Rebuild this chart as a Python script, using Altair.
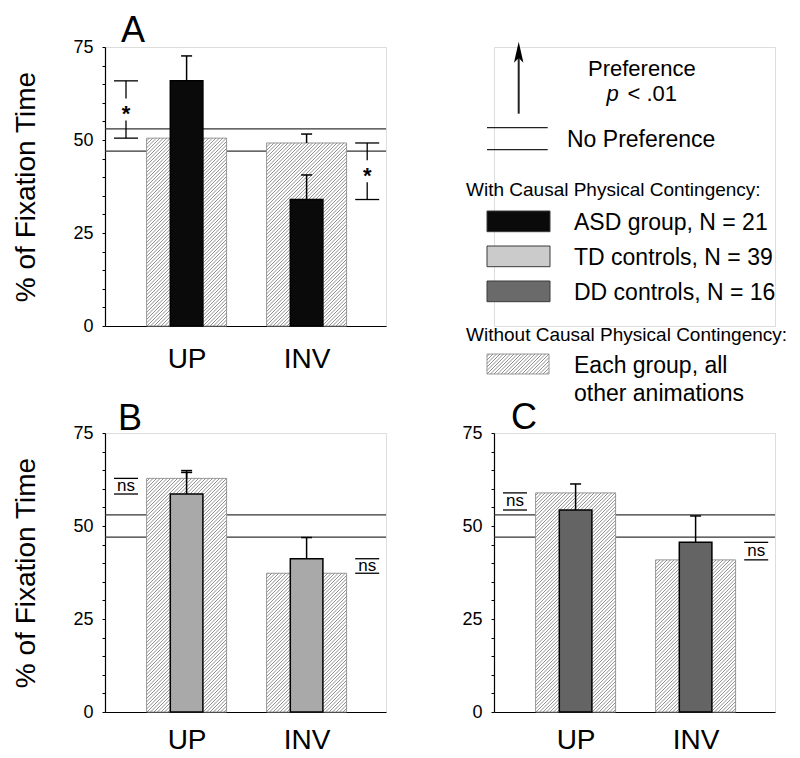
import json
import numpy as np
import pandas as pd
import altair as alt

FONT = "Liberation Sans"

# ---------------- data ----------------
conditions = ["UP", "INV"]
no_pref_band = [47, 53]

asd_mean = [65.9, 34.0]
asd_err = [72.6, 40.6]
asd_other_mean = [50.5, 49.2]
asd_other_err = [None, 51.6]
asd_sig = ["*", "*"]

td_mean = [58.6, 41.2]
td_err = [64.9, 46.9]
td_other_mean = [62.8, 37.3]
td_other_err = [64.4, None]
td_sig = ["ns", "ns"]

dd_mean = [54.3, 45.6]
dd_err = [61.3, 52.7]
dd_other_mean = [58.9, 40.9]
dd_other_err = [None, None]
dd_sig = ["ns", "ns"]

y_ticks = list(range(0, 76, 5))
y_labels_every = 25

legend_groups = ["ASD group, N = 21", "TD controls, N = 39", "DD controls, N = 16"]
legend_colors = ["#0a0a0a", "#cbcbcb", "#6a6a6a"]

# ---------------- geometry (layout only) ----------------
W, H = 281, 279
PXU = 120.0
XMAX = W / PXU
YMAX = 75
PX_Y = H / YMAX
OFFSET = 0.68
HALF_OTHER = 40 / PXU
HALF_GROUP = 16.3 / PXU
CAP = 5.5 / PXU
MARK_HALF = 12 / PXU
MARK_SHIFT = 0.505
HATCH_STEP = 3.5
HATCH_COLOR = "#7c7c7c"
HATCH_W = 0.85

xscale = alt.Scale(domain=[0, XMAX], nice=False, zero=False)
yscale = alt.Scale(domain=[0, YMAX], nice=False, zero=True)


def hatch_segments(x0, x1, y0, y1, step=HATCH_STEP):
    """Diagonal '/' segments clipped to a rectangle, pixel coords with y up."""
    segs = []
    tmin, tmax = x0 - y1, x1 - y0
    t = np.ceil(tmin / step) * step
    while t < tmax:
        xa = max(x0, y0 + t)
        xb = min(x1, y1 + t)
        if xb - xa > 0.2:
            segs.append((xa, xa - t, xb, xb - t))
        t += step
    return segs


def panel(letter, mean, err, other_mean, other_err, sig, color, y_title,
          label_pad, letter_x, letter_y):
    pos = [i + OFFSET for i in range(len(conditions))]
    xaxis = alt.Axis(
        values=pos,
        labelExpr=f"{json.dumps(conditions)}[round(datum.value - {OFFSET})]",
        ticks=False, tickSize=0, grid=False, domainColor="black", domainWidth=1.2,
        labelFontSize=28, labelColor="black", labelPadding=label_pad,
        labelFlush=False, labelOverlap=False, title=None, labelFont=FONT,
    )
    yaxis = alt.Axis(
        values=y_ticks,
        labelExpr=f"datum.value % {y_labels_every} == 0 ? datum.label : ''",
        tickSize=3,
        tickColor="black", domainColor="black", domainWidth=1.2, grid=False,
        labelFontSize=18, labelColor="black", labelPadding=9, labelFont=FONT,
        labelOverlap=False, labelFlush=False,
        title=y_title, titleFontSize=28, titleFontWeight="normal", titleColor="black",
        titlePadding=32, titleFont=FONT,
    )

    def X(f):
        return alt.X(f"{f}:Q", scale=xscale, axis=xaxis)

    def Y(f):
        return alt.Y(f"{f}:Q", scale=yscale, axis=yaxis)

    bars = pd.DataFrame({
        "cond": conditions, "pos": pos, "mean": mean, "err": err,
        "other": other_mean,
    })
    bars["zero"] = 0.0
    bars["ox0"] = bars["pos"] - HALF_OTHER
    bars["ox1"] = bars["pos"] + HALF_OTHER
    bars["gx0"] = bars["pos"] - HALF_GROUP
    bars["gx1"] = bars["pos"] + HALF_GROUP

    # preference band lines
    pref_df = pd.DataFrame({"y": no_pref_band, "x0": 0.0, "x1": XMAX})
    pref = alt.Chart(pref_df).mark_rule(color="#333333", strokeWidth=1.2).encode(
        x=X("x0"), x2="x1", y=Y("y"))

    other_bars = alt.Chart(bars).mark_rect(fill="white", stroke="#9a9a9a", strokeWidth=1).encode(
        x=X("ox0"), x2="ox1", y=Y("zero"), y2="other")

    hrows = []
    for p, v in zip(pos, other_mean):
        for (xa, ya, xb, yb) in hatch_segments((p - HALF_OTHER) * PXU, (p + HALF_OTHER) * PXU, 0, v * PX_Y):
            hrows.append({"hx": xa / PXU, "hy": ya / PX_Y, "hx2": xb / PXU, "hy2": yb / PX_Y})
    hatch = alt.Chart(pd.DataFrame(hrows)).mark_rule(color=HATCH_COLOR, strokeWidth=HATCH_W).encode(
        x=X("hx"), x2="hx2", y=Y("hy"), y2="hy2")

    group_bars = alt.Chart(bars).mark_rect(fill=color, stroke="black", strokeWidth=1.5).encode(
        x=X("gx0"), x2="gx1", y=Y("zero"), y2="mean")

    erows = []
    for p, m, e, om, oe in zip(pos, mean, err, other_mean, other_err):
        erows.append({"ep": p, "base": m, "top": e, "c0": p - CAP, "c1": p + CAP})
        if oe is not None:
            erows.append({"ep": p, "base": om, "top": oe, "c0": p - CAP, "c1": p + CAP})
    edf = pd.DataFrame(erows)
    err_line = alt.Chart(edf).mark_rule(color="black", strokeWidth=1.5).encode(
        x=X("ep"), y=Y("base"), y2="top")
    err_cap = alt.Chart(edf).mark_rule(color="black", strokeWidth=1.5).encode(
        x=X("c0"), x2="c1", y=Y("top"))

    # significance markers
    lrows, trows = [], []
    for i, (p, m, om, s) in enumerate(zip(pos, mean, other_mean, sig)):
        side = -1 if i == 0 else 1
        mx = p + side * MARK_SHIFT
        hi, lo = max(m, om), min(m, om)
        mid = (hi + lo) / 2
        for v in (hi, lo):
            lrows.append({"sx": mx - MARK_HALF, "sx2": mx + MARK_HALF, "sy": v, "sy2": v})
        if s == "*":
            gap = 11 / PX_Y
            lrows.append({"sx": mx, "sx2": mx, "sy": hi, "sy2": mid + gap})
            lrows.append({"sx": mx, "sx2": mx, "sy": mid - gap, "sy2": lo})
        trows.append({"tx": mx, "ty": mid, "txt": s})
    sig_lines = alt.Chart(pd.DataFrame(lrows)).mark_rule(color="black", strokeWidth=1.3).encode(
        x=X("sx"), x2="sx2", y=Y("sy"), y2="sy2")
    tdf = pd.DataFrame(trows)
    if sig[0] == "*":
        sig_text = alt.Chart(tdf).mark_text(fontSize=22, fontWeight="bold", baseline="alphabetic",
                                            dy=12, font=FONT, color="black").encode(
            x=X("tx"), y=Y("ty"), text="txt:N")
    else:
        sig_text = alt.Chart(tdf).mark_text(fontSize=17, baseline="alphabetic", dy=5,
                                            font=FONT, color="black").encode(
            x=X("tx"), y=Y("ty"), text="txt:N")

    letter_layer = alt.Chart(pd.DataFrame({"t": [letter]})).mark_text(
        align="left", baseline="alphabetic", fontSize=36, font=FONT, color="black").encode(
        text="t:N", x=alt.value(letter_x), y=alt.value(letter_y))

    return alt.layer(pref, other_bars, hatch, group_bars, err_line, err_cap,
                     sig_lines, sig_text, letter_layer).properties(width=W, height=H)


panel_a = panel("A", asd_mean, asd_err, asd_other_mean, asd_other_err, asd_sig,
                "#0a0a0a", "% of Fixation Time", 19, 16, -5.5)
panel_b = panel("B", td_mean, td_err, td_other_mean, td_other_err, td_sig,
                "#a9a9a9", "% of Fixation Time", 14, 13, -3.4)
panel_c = panel("C", dd_mean, dd_err, dd_other_mean, dd_other_err, dd_sig,
                "#646464", None, 14, 17, -4.2)

# ---------------- legend panel (pixel coordinates via identity scales) ----------------
LXS = alt.Scale(domain=[0, W], range=[0, W], nice=False, zero=False)
LYS = alt.Scale(domain=[0, H], range=[0, H], nice=False, zero=False)


def LX(f):
    return alt.X(f"{f}:Q", scale=LXS, axis=None)


def LY(f):
    return alt.Y(f"{f}:Q", scale=LYS, axis=None)


text_rows = [
    {"lx": 94, "ly": 28.5, "txt": "Preference", "fs": 22},
    {"lx": 133.5, "ly": 53.5, "txt": "< .01", "fs": 22},
    {"lx": 73, "ly": 99.7, "txt": "No Preference", "fs": 23},
    {"lx": -28, "ly": 149, "txt": "With Causal Physical Contingency:", "fs": 19},
    {"lx": -28, "ly": 294, "txt": "Without Causal Physical Contingency:", "fs": 19},
    {"lx": 80, "ly": 326.3, "txt": "Each group, all", "fs": 23},
    {"lx": 80, "ly": 354, "txt": "other animations", "fs": 23},
]
for i, g in enumerate(legend_groups):
    text_rows.append({"lx": 80, "ly": 183.3 + 35 * i, "txt": g, "fs": 23})
leg_text = alt.Chart(pd.DataFrame(text_rows)).mark_text(
    align="left", baseline="alphabetic", font=FONT, color="black").encode(
    x=LX("lx"), y=LY("ly"), text="txt:N", size=alt.Size("fs:Q", scale=None, legend=None))

leg_p = alt.Chart(pd.DataFrame({"lx": [112.5], "ly": [53.5], "txt": ["p"]})).mark_text(
    align="left", baseline="alphabetic", font=FONT, fontSize=22, fontStyle="italic",
    color="black").encode(x=LX("lx"), y=LY("ly"), text="txt:N")

rule_rows = [
    {"rx": -7, "rx2": 53.7, "ry": 80.7, "ry2": 80.7, "w": 1.2},
    {"rx": -7, "rx2": 53.7, "ry": 102.7, "ry2": 102.7, "w": 1.2},
    {"rx": 24.7, "rx2": 24.7, "ry": 6, "ry2": 66.7, "w": 2},
]
leg_rules = alt.Chart(pd.DataFrame(rule_rows)).mark_rule(color="#222222").encode(
    x=LX("rx"), x2="rx2", y=LY("ry"), y2="ry2",
    strokeWidth=alt.StrokeWidth("w:Q", scale=None, legend=None))

arrow_head = alt.Chart(pd.DataFrame({"ax": [24.7], "ay": [5.2]})).mark_point(
    shape="M0,-1L-0.45,1L0,0.55L0.45,1Z", filled=True, size=441, color="black", opacity=1).encode(
    x=LX("ax"), y=LY("ay"))

sw_rows = []
for i, c in enumerate(legend_colors):
    sw_rows.append({"sx": -7, "sx2": 56, "sy": 164 + 35 * i, "sy2": 184.7 + 35 * i, "col": c})
leg_sw = alt.Chart(pd.DataFrame(sw_rows)).mark_rect(stroke="#3a3a3a", strokeWidth=1).encode(
    x=LX("sx"), x2="sx2", y=LY("sy"), y2="sy2", fill=alt.Fill("col:N", scale=None, legend=None))

hs_x0, hs_x1, hs_y0, hs_y1 = -7, 55, 307, 327
leg_hbox = alt.Chart(pd.DataFrame({"sx": [hs_x0], "sx2": [hs_x1], "sy": [hs_y0], "sy2": [hs_y1]})).mark_rect(
    fill="white", stroke="#9a9a9a", strokeWidth=1).encode(x=LX("sx"), x2="sx2", y=LY("sy"), y2="sy2")
hl_rows = []
for (xa, ya, xb, yb) in hatch_segments(0, hs_x1 - hs_x0, 0, hs_y1 - hs_y0):
    hl_rows.append({"hx": hs_x0 + xa, "hy": hs_y1 - ya, "hx2": hs_x0 + xb, "hy2": hs_y1 - yb})
leg_hatch = alt.Chart(pd.DataFrame(hl_rows)).mark_rule(color=HATCH_COLOR, strokeWidth=HATCH_W).encode(
    x=LX("hx"), x2="hx2", y=LY("hy"), y2="hy2")

legend_panel = alt.layer(leg_rules, arrow_head, leg_text, leg_p, leg_sw, leg_hbox, leg_hatch).properties(
    width=W, height=H)

chart = alt.concat(
    panel_a, legend_panel, panel_b, panel_c,
    columns=2, spacing={"row": 107, "column": 108}, bounds="flush",
).properties(
    padding={"left": 4, "top": 4, "right": 2, "bottom": 0},
).configure_view(stroke=None).configure(font=FONT)

chart.save("out.html", embed_options={"renderer": "svg", "actions": False})
